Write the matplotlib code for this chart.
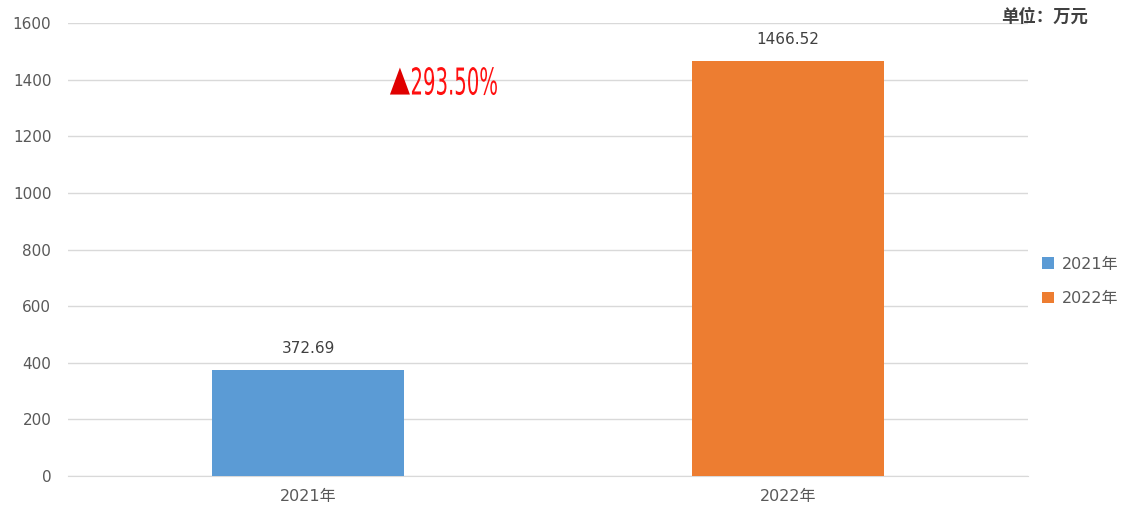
import matplotlib.pyplot as plt
from matplotlib.textpath import TextPath
from matplotlib.patches import PathPatch
from matplotlib.font_manager import FontProperties
from matplotlib.transforms import Affine2D, ScaledTranslation

plt.rcParams['font.family'] = ['DejaVu Sans', 'Noto Sans CJK SC']

# Daten
years = ['2021年', '2022年']
values = [372.69, 1466.52]
colors = ['#5B9BD5', '#ED7D31']
growth = '293.50%'

fig = plt.figure(figsize=(11.3, 5.16), dpi=100)
ax = fig.add_axes([0.0602, 0.0775, 0.8496, 0.8779])

x = range(len(years))
bars = ax.bar(x, values, width=0.4, color=colors, label=years, zorder=3)

for xi, v in zip(x, values):
    ax.text(xi, v + 50, f'{v:.2f}', ha='center', va='bottom', fontsize=11, color='#404040')

ax.set_xlim(-0.5, 1.5)
ax.set_ylim(0, 1600)
ax.set_yticks(range(0, 1601, 200))
ax.set_xticks(list(x))
ax.set_xticklabels(years)
ax.grid(axis='y', color='#D9D9D9', linewidth=1, zorder=0)
for s in ['top', 'right', 'left']:
    ax.spines[s].set_visible(False)
ax.spines['bottom'].set_color('#D9D9D9')
ax.tick_params(axis='both', length=0, labelsize=11, labelcolor='#595959')
ax.tick_params(axis='y', pad=12)
ax.tick_params(axis='x', labelsize=11.5, pad=9)


# schmale, hohe Schrift (gestauchter Textpfad), Maße in Pixeln
def narrow_text(s, left_px, w_px, h_px, color):
    tp = TextPath((0, 0), s, size=1, prop=FontProperties(family='DejaVu Sans'))
    ext = tp.get_extents()
    tr = (Affine2D().translate(-ext.x0, -ext.y0 - ext.height / 2)
          .scale(w_px / ext.width, h_px / ext.height).translate(left_px, 0)
          + ScaledTranslation(0.281, 1395, ax.transData))
    ax.add_patch(PathPatch(tp, transform=tr, facecolor=color, edgecolor='none', zorder=5))


narrow_text('▲', -53, 20, 27, '#E00000')
narrow_text(growth, -31, 85, 28, '#FF1010')

fig.text(0.963, 0.967, '单位：万元', ha='right', va='center', fontsize=12.5,
         fontweight='bold', color='#404040')

leg = ax.legend(handles=bars, labels=years, loc='center left', bbox_to_anchor=(1.0, 0.43),
                frameon=False, fontsize=11.5, handlelength=0.7, handleheight=0.7,
                labelcolor='#595959', handletextpad=0.5, labelspacing=1.2)

fig.savefig('out.png')
